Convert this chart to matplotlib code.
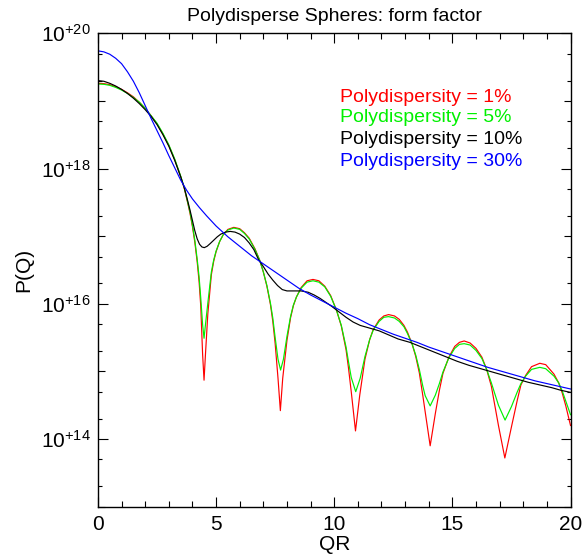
# ===================================================================================
# plot.py: Polydisperse spheres form factor P(Q) vs QR for four polydispersities.
# ===================================================================================

import numpy as np
import matplotlib
matplotlib.use("Agg")
import matplotlib.pyplot as plt
from matplotlib.ticker import LogLocator, FixedLocator, FuncFormatter, MultipleLocator

plt.rcParams['font.family'] = ['Liberation Sans', 'DejaVu Sans']
plt.rcParams['mathtext.fontset'] = 'custom'
plt.rcParams['mathtext.rm'] = 'Liberation Sans'

# ---------------------------------------------------------------
# Data (QR, log10 P(Q)) ...
# ---------------------------------------------------------------

qr_1 = [0.0, 0.25, 0.5, 0.75, 1.0, 1.25, 1.5, 1.75, 2.0, 2.25, 2.5, 2.75, 3.0,
        3.25, 3.5, 3.65, 3.8, 3.9, 4.0, 4.1, 4.2, 4.28, 4.35, 4.43, 4.49, 4.55,
        4.65, 4.8, 4.9, 5.0, 5.15, 5.3, 5.5, 5.75, 6.0, 6.2, 6.4, 6.65, 6.85,
        7.0, 7.15, 7.3, 7.4, 7.5, 7.62, 7.72, 7.82, 8.0, 8.15, 8.27, 8.4, 8.6,
        8.85, 9.1, 9.35, 9.6, 9.85, 10.1, 10.3, 10.5, 10.6, 10.72, 10.9, 11.08,
        11.3, 11.5, 11.65, 11.9, 12.1, 12.3, 12.55, 12.75, 12.95, 13.1, 13.3,
        13.45, 13.6, 13.75, 13.85, 14.06, 14.28, 14.45, 14.6, 14.85, 15.1, 15.3,
        15.5, 15.75, 16.0, 16.25, 16.45, 16.65, 16.95, 17.22, 17.5, 17.75, 17.9,
        18.1, 18.35, 18.7, 18.95, 19.3, 19.5, 19.65, 19.8, 20.0]
logp_1 = [19.26, 19.255, 19.24, 19.21, 19.17, 19.12, 19.06, 18.98, 18.89, 18.78,
          18.66, 18.51, 18.34, 18.13, 17.88, 17.71, 17.49, 17.33, 17.14, 16.91,
          16.62, 16.33, 15.97, 15.25, 14.87, 15.25, 15.85, 16.43, 16.63, 16.77,
          16.92, 17.02, 17.10, 17.13, 17.11, 17.05, 16.97, 16.81, 16.64, 16.47,
          16.26, 15.99, 15.74, 15.41, 14.90, 14.42, 14.90, 15.46, 15.79, 15.97,
          16.10, 16.24, 16.34, 16.36, 16.34, 16.26, 16.12, 15.90, 15.67, 15.32,
          15.06, 14.70, 14.12, 14.65, 15.18, 15.47, 15.62, 15.76, 15.82, 15.84,
          15.82, 15.77, 15.68, 15.58, 15.40, 15.22, 14.98, 14.64, 14.40, 13.90,
          14.38, 14.72, 14.97, 15.21, 15.37, 15.43, 15.45, 15.42, 15.34, 15.21,
          15.03, 14.78, 14.20, 13.72, 14.18, 14.58, 14.80, 14.94, 15.07, 15.12,
          15.10, 14.96, 14.83, 14.68, 14.49, 14.20]

qr_5 = [0.0, 0.25, 0.5, 0.75, 1.0, 1.25, 1.5, 1.75, 2.0, 2.25, 2.5, 2.75, 3.0,
        3.25, 3.5, 3.65, 3.8, 3.9, 4.0, 4.1, 4.2, 4.28, 4.35, 4.43, 4.49, 4.55,
        4.65, 4.8, 4.9, 5.0, 5.15, 5.3, 5.5, 5.75, 6.0, 6.2, 6.4, 6.65, 6.85,
        7.0, 7.15, 7.3, 7.4, 7.5, 7.62, 7.73, 7.85, 8.0, 8.15, 8.27, 8.4, 8.6,
        8.85, 9.1, 9.35, 9.6, 9.85, 10.1, 10.3, 10.5, 10.6, 10.72, 10.91, 11.1,
        11.3, 11.5, 11.65, 11.9, 12.1, 12.3, 12.55, 12.75, 12.95, 13.1, 13.3,
        13.45, 13.6, 13.75, 13.85, 14.06, 14.28, 14.45, 14.6, 14.85, 15.1, 15.3,
        15.5, 15.75, 16.0, 16.25, 16.45, 16.65, 16.95, 17.23, 17.5, 17.75, 17.9,
        18.1, 18.35, 18.7, 18.95, 19.3, 19.5, 19.65, 19.8, 20.0]
logp_5 = [19.25, 19.245, 19.23, 19.20, 19.16, 19.11, 19.05, 18.98, 18.89, 18.78,
          18.67, 18.52, 18.35, 18.14, 17.89, 17.72, 17.50, 17.35, 17.16, 16.94,
          16.66, 16.40, 16.09, 15.69, 15.49, 15.69, 16.01, 16.47, 16.65, 16.78,
          16.92, 17.02, 17.09, 17.12, 17.10, 17.04, 16.96, 16.80, 16.64, 16.47,
          16.27, 16.01, 15.79, 15.50, 15.18, 15.02, 15.18, 15.52, 15.81, 15.98,
          16.10, 16.23, 16.32, 16.34, 16.32, 16.25, 16.11, 15.90, 15.68, 15.36,
          15.15, 14.91, 14.70, 14.90, 15.22, 15.47, 15.61, 15.74, 15.80, 15.81,
          15.79, 15.74, 15.66, 15.56, 15.40, 15.24, 15.03, 14.78, 14.64, 14.49,
          14.65, 14.82, 14.99, 15.20, 15.34, 15.40, 15.41, 15.39, 15.31, 15.19,
          15.03, 14.83, 14.50, 14.28, 14.48, 14.70, 14.82, 14.93, 15.03, 15.06,
          15.04, 14.93, 14.83, 14.71, 14.56, 14.36]

qr_10 = [0.0, 0.25, 0.5, 0.75, 1.0, 1.25, 1.5, 1.75, 2.0, 2.25, 2.5, 2.75, 3.0,
         3.25, 3.5, 3.65, 3.8, 3.9, 4.0, 4.1, 4.2, 4.3, 4.4, 4.5, 4.62, 4.75,
         4.9, 5.05, 5.2, 5.4, 5.6, 5.8, 6.0, 6.2, 6.4, 6.6, 6.8, 7.0, 7.2, 7.4,
         7.6, 7.8, 8.0, 8.3, 8.6, 8.9, 9.15, 9.4, 9.65, 9.9, 10.2, 10.5, 10.8,
         11.1, 11.5, 11.9, 12.3, 12.7, 13.2, 13.7, 14.2, 14.7, 15.2, 15.7, 16.2,
         16.7, 17.2, 17.7, 18.2, 18.7, 19.2, 19.6, 20.0]
logp_10 = [19.30, 19.29, 19.26, 19.22, 19.17, 19.11, 19.04, 18.96, 18.87, 18.77,
           18.65, 18.50, 18.33, 18.12, 17.88, 17.72, 17.52, 17.38, 17.23, 17.08,
           16.96, 16.88, 16.84, 16.83, 16.85, 16.89, 16.94, 16.99, 17.03, 17.06,
           17.07, 17.06, 17.03, 16.98, 16.90, 16.80, 16.65, 16.55, 16.44, 16.35,
           16.27, 16.21, 16.19, 16.19, 16.19, 16.17, 16.13, 16.08, 16.02, 15.96,
           15.88, 15.80, 15.73, 15.68, 15.64, 15.60, 15.54, 15.48, 15.43, 15.36,
           15.29, 15.22, 15.15, 15.09, 15.04, 14.99, 14.94, 14.89, 14.84, 14.80,
           14.76, 14.72, 14.69]

qr_30 = [0.0, 0.25, 0.5, 0.75, 1.0, 1.25, 1.5, 1.75, 2.0, 2.25, 2.5, 2.75, 3.0,
         3.25, 3.5, 3.75, 4.0, 4.3, 4.6, 5.0, 5.5, 6.0, 6.5, 7.0, 7.5, 8.0, 8.5,
         9.0, 9.5, 10.0, 10.5, 11.0, 11.5, 12.0, 12.5, 13.0, 13.5, 14.0, 14.5,
         15.0, 15.5, 16.0, 16.5, 17.0, 17.5, 18.0, 18.5, 19.0, 19.5, 20.0]
logp_30 = [19.74, 19.725, 19.69, 19.63, 19.55, 19.43, 19.29, 19.12, 18.93, 18.74,
           18.56, 18.38, 18.19, 18.01, 17.83, 17.68, 17.55, 17.42, 17.30, 17.15,
           16.99, 16.85, 16.71, 16.59, 16.47, 16.35, 16.23, 16.13, 16.04, 15.95,
           15.86, 15.78, 15.69, 15.62, 15.55, 15.49, 15.43, 15.36, 15.30, 15.24,
           15.18, 15.12, 15.06, 15.01, 14.96, 14.91, 14.86, 14.82, 14.78, 14.74]

labels = ['Polydispersity = 1%', 'Polydispersity = 5%',
          'Polydispersity = 10%', 'Polydispersity = 30%']
colors = ['#ff0000', '#00f000', '#000000', '#0000ff']


def sci_label(val, pos):
    e = int(round(np.log10(val)))
    if e % 2 != 0:
        return ''
    return r'$\mathregular{10^{+%d}}$' % e


def main():
    fig = plt.figure(figsize=(5.83, 5.58), dpi=100)
    ax = fig.add_axes([0.168, 0.092, 0.8106, 0.8484])

    series = [(qr_1, logp_1), (qr_5, logp_5), (qr_10, logp_10), (qr_30, logp_30)]
    for (x, lp), c in zip(series, colors):
        ax.plot(x, 10.0 ** np.asarray(lp), color=c, lw=0.85)

    ax.set_yscale('log')
    ax.set_xlim(0, 20)
    ax.set_ylim(1e13, 1e20)

    # ticks ...
    ax.xaxis.set_major_locator(MultipleLocator(5))
    ax.xaxis.set_minor_locator(MultipleLocator(1))
    ax.yaxis.set_major_locator(FixedLocator([10.0 ** e for e in range(13, 21)]))
    ax.yaxis.set_major_formatter(FuncFormatter(sci_label))
    ax.yaxis.set_minor_locator(LogLocator(base=10, subs=(2.0, 5.0), numticks=20))
    ax.yaxis.set_minor_formatter(FuncFormatter(lambda v, p: ''))

    ax.tick_params(which='both', direction='in', top=True, right=True,
                   width=0.8, colors='black')
    ax.tick_params(axis='x', which='major', length=7, pad=6, labelsize=15)
    ax.tick_params(axis='x', which='minor', length=4.5)
    ax.tick_params(axis='y', which='major', length=7, pad=5, labelsize=15)
    ax.tick_params(axis='y', which='minor', length=3)

    for s in ax.spines.values():
        s.set_linewidth(1.0)

    ax.set_title('Polydisperse Spheres: form factor', fontsize=14, pad=9)
    ax.set_xlabel('QR', fontsize=15, labelpad=1)
    ax.set_ylabel('P(Q)', fontsize=15, labelpad=6)

    # coloured legend text ...
    ys = [0.865, 0.821, 0.775, 0.730]
    for lab, c, y in zip(labels, colors, ys):
        ax.text(0.512, y, lab, color=c, fontsize=14, va='center', ha='left',
                transform=ax.transAxes)

    # odd decades get a medium tick ...
    fig.canvas.draw()
    for t in ax.yaxis.get_major_ticks():
        e = int(round(np.log10(t.get_loc())))
        if e % 2 != 0:
            t.tick1line.set_markersize(4.8)
            t.tick2line.set_markersize(4.8)

    fig.savefig('out.png', dpi=100)


if __name__ == "__main__":
    main()
